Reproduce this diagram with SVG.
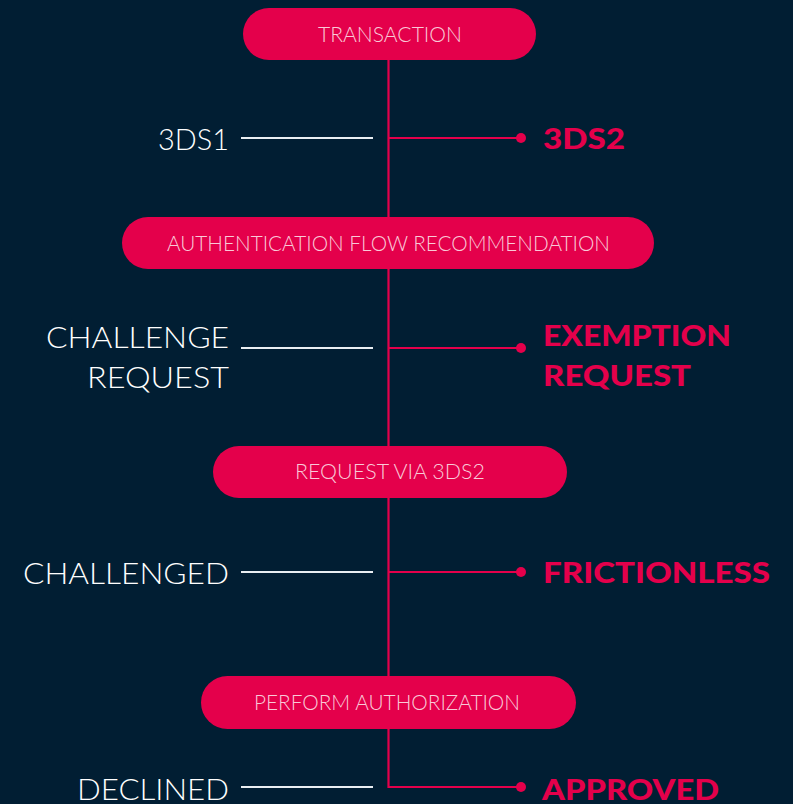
<svg xmlns="http://www.w3.org/2000/svg" width="793" height="804" viewBox="0 0 793 804">
<defs>
<style>
.bg{fill:#011e33}
.pill{fill:#e4004b}
.ptxt{font-family:Lato,"Open Sans",sans-serif;font-weight:300;font-size:21px;fill:#f9c9d7;text-anchor:middle}
.ltxt{font-family:Lato,"Open Sans",sans-serif;font-weight:300;font-size:30px;fill:#ffffff;text-anchor:end}
.rtxt{font-family:Lato,"Open Sans",sans-serif;font-weight:900;font-size:29px;fill:#e4004b}
.red{stroke:#e4004b;stroke-width:2.2;fill:none}
.wht{stroke:#e9eef2;stroke-width:1.8;fill:none}
.dot{fill:#e4004b}
</style>
</defs>
<rect class="bg" x="0" y="0" width="793" height="804"/>
<g id="connectors">
<path class="red" d="M388.5,60 V787 H521"/>
<path class="red" d="M388.5,138 H521"/>
<path class="red" d="M388.5,348 H521"/>
<path class="red" d="M388.5,572 H521"/>
<circle class="dot" cx="521" cy="138" r="5"/>
<circle class="dot" cx="521" cy="348" r="5"/>
<circle class="dot" cx="521" cy="572" r="5"/>
<circle class="dot" cx="521" cy="787" r="5"/>
<path class="wht" d="M241,138 H373"/>
<path class="wht" d="M241,348 H373"/>
<path class="wht" d="M241,572 H373"/>
<path class="wht" d="M241,787 H373"/>
</g>
<g id="transaction">
<rect class="pill" x="243" y="8" width="293" height="52" rx="26"/>
<text class="ptxt" x="390" y="42" textLength="144" lengthAdjust="spacingAndGlyphs">TRANSACTION</text>
</g>
<g id="auth-flow">
<rect class="pill" x="122" y="217" width="532" height="52" rx="26"/>
<text class="ptxt" x="388.5" y="251" textLength="443" lengthAdjust="spacingAndGlyphs">AUTHENTICATION FLOW RECOMMENDATION</text>
</g>
<g id="request-via">
<rect class="pill" x="213" y="446" width="354" height="52" rx="26"/>
<text class="ptxt" x="390" y="479" textLength="190" lengthAdjust="spacingAndGlyphs">REQUEST VIA 3DS2</text>
</g>
<g id="perform-auth">
<rect class="pill" x="201" y="676" width="375" height="53" rx="26.5"/>
<text class="ptxt" x="387" y="710" textLength="266" lengthAdjust="spacingAndGlyphs">PERFORM AUTHORIZATION</text>
</g>
<g id="label-3ds1">
<text class="ltxt" x="229" y="150" textLength="71" lengthAdjust="spacingAndGlyphs">3DS1</text>
</g>
<g id="label-3ds2">
<text class="rtxt" x="543" y="149" textLength="82" lengthAdjust="spacingAndGlyphs">3DS2</text>
</g>
<g id="label-challenge-request">
<text class="ltxt" x="229" y="348" textLength="183" lengthAdjust="spacingAndGlyphs">CHALLENGE</text>
<text class="ltxt" x="229" y="388" textLength="142" lengthAdjust="spacingAndGlyphs">REQUEST</text>
</g>
<g id="label-exemption-request">
<text class="rtxt" x="543" y="346" textLength="188" lengthAdjust="spacingAndGlyphs">EXEMPTION</text>
<text class="rtxt" x="543" y="386" textLength="148" lengthAdjust="spacingAndGlyphs">REQUEST</text>
</g>
<g id="label-challenged">
<text class="ltxt" x="229" y="584" textLength="206" lengthAdjust="spacingAndGlyphs">CHALLENGED</text>
</g>
<g id="label-frictionless">
<text class="rtxt" x="543" y="583" textLength="227" lengthAdjust="spacingAndGlyphs">FRICTIONLESS</text>
</g>
<g id="label-declined">
<text class="ltxt" x="229" y="800" textLength="152" lengthAdjust="spacingAndGlyphs">DECLINED</text>
</g>
<g id="label-approved">
<text class="rtxt" x="542" y="800" textLength="177" lengthAdjust="spacingAndGlyphs">APPROVED</text>
</g>
</svg>
